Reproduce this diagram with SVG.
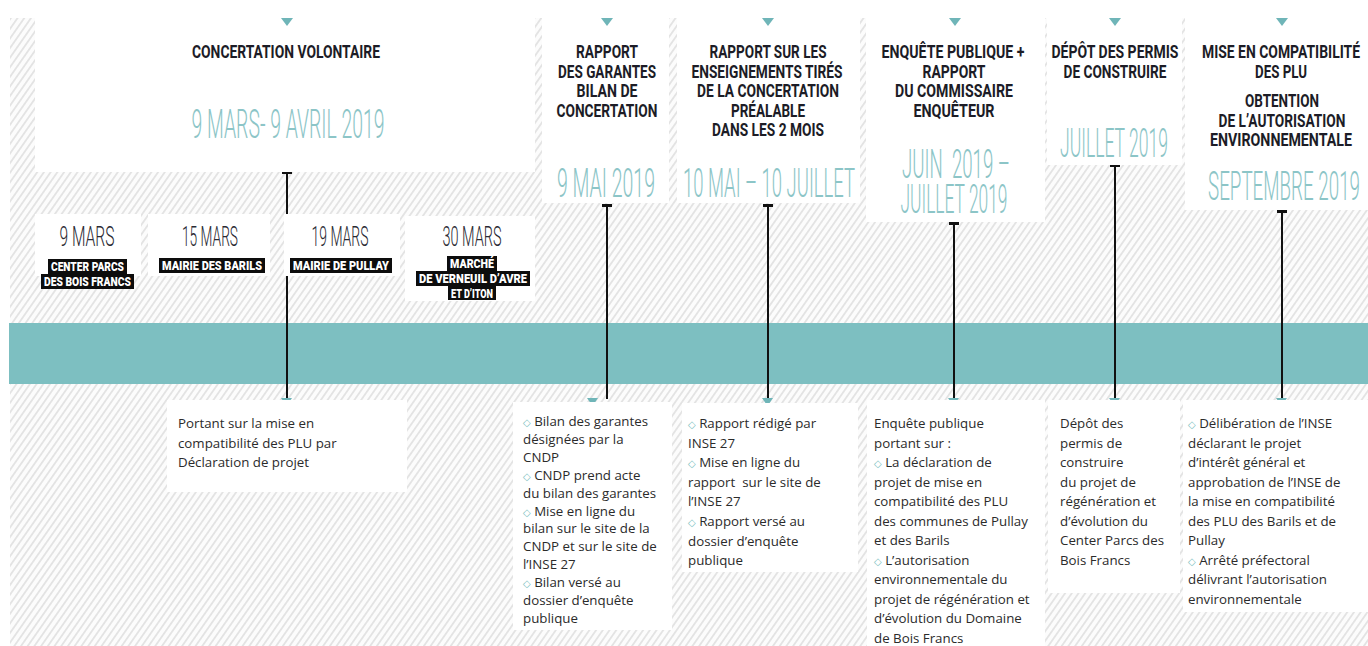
<svg xmlns="http://www.w3.org/2000/svg" width="1368" height="646" viewBox="0 0 1368 646">
  <defs>
    <pattern id="hatch" width="5.5" height="5.5" patternUnits="userSpaceOnUse" patternTransform="rotate(35)">
      <rect width="5.5" height="5.5" fill="#fcfcfc"/>
      <line x1="2.75" y1="0" x2="2.75" y2="5.5" stroke="#dadada" stroke-width="1.3"/>
    </pattern>
    <marker id="cap" viewBox="0 0 10 4" refX="5" refY="2" markerWidth="10" markerHeight="4" markerUnits="userSpaceOnUse" orient="0">
      <rect width="10" height="3" fill="#111"/>
    </marker>
  </defs>
  <style>
    .box { fill: #ffffff; }
    .tri { fill: #6fb5b8; }
    .head { font-family: Roboto, "Liberation Sans", sans-serif; font-weight: 700; font-size: 18px; fill: #1c1c26; text-anchor: middle; }
    .date { font-family: Roboto, "Liberation Sans", sans-serif; font-weight: 300; font-size: 41px; fill: #8cc5c7; text-anchor: middle; }
    .sdate { font-family: Roboto, "Liberation Sans", sans-serif; font-weight: 300; font-size: 28px; fill: #2a2a33; text-anchor: middle; }
    .tag { fill: #0d0d0d; }
    .tagt { font-family: Roboto, "Liberation Sans", sans-serif; font-weight: 900; font-size: 13px; fill: #ffffff; text-anchor: middle; }
    .body { font-family: "Open Sans", "Noto Sans", sans-serif; font-size: 13.3px; fill: #2b2b2b; }
    .bul { font-family: "DejaVu Sans", sans-serif; font-size: 10px; fill: #7dbfc1; }
    .link { stroke: #111; stroke-width: 2; fill: none; marker-start: url(#cap); }
  </style>

  <!-- hatched backdrop and timeline band -->
  <rect x="0" y="0" width="1368" height="646" fill="#ffffff"/>
  <rect x="10" y="18" width="1358" height="628" fill="url(#hatch)"/>
  <rect x="9" y="323" width="1359" height="61" fill="#7dbfc1"/>

  <!-- connectors: stems from each heading down to its detail card -->
  <g id="connectors">
    <line class="link" x1="287" y1="173" x2="287" y2="399"/>
    <line class="link" x1="607" y1="206" x2="607" y2="399"/>
    <line class="link" x1="768" y1="206" x2="768" y2="399"/>
    <line class="link" x1="954" y1="224" x2="954" y2="399"/>
    <line class="link" x1="1115" y1="166" x2="1115" y2="399"/>
    <line class="link" x1="1282" y1="212" x2="1282" y2="399"/>
    <polygon class="tri" points="281,398 292,398 286.5,406"/>
    <polygon class="tri" points="587,398 598,398 592.5,406"/>
    <polygon class="tri" points="762,398 773,398 767.5,406"/>
    <polygon class="tri" points="948,398 959,398 953.5,406"/>
    <polygon class="tri" points="1109,398 1120,398 1114.5,406"/>
    <polygon class="tri" points="1276,398 1287,398 1281.5,406"/>
  </g>

  <!-- phase 1: concertation -->
  <g id="concertation">
    <rect class="box" x="35" y="18" width="500" height="154"/>
    <polygon class="tri" points="281,18 293,18 287,26"/>
    <text class="head" x="286" y="58" textLength="188" lengthAdjust="spacingAndGlyphs">CONCERTATION VOLONTAIRE</text>
    <text class="date" x="288" y="138" font-size="42" textLength="193" lengthAdjust="spacingAndGlyphs">9 MARS- 9 AVRIL 2019</text>
  </g>

  <g id="m09">
    <rect class="box" x="35" y="214" width="106" height="62"/>
    <text class="sdate" x="87" y="246" textLength="55" lengthAdjust="spacingAndGlyphs">9 MARS</text>
    <rect class="tag" x="48" y="259" width="79" height="15"/>
    <rect class="tag" x="41" y="274" width="93" height="15"/>
    <text class="tagt" x="87.5" y="271" textLength="73" lengthAdjust="spacingAndGlyphs">CENTER PARCS</text>
    <text class="tagt" x="87.5" y="286" textLength="87" lengthAdjust="spacingAndGlyphs">DES BOIS FRANCS</text>
  </g>

  <g id="m15">
    <rect class="box" x="148" y="214" width="122" height="62"/>
    <text class="sdate" x="210" y="246" textLength="56" lengthAdjust="spacingAndGlyphs">15 MARS</text>
    <rect class="tag" x="159" y="258" width="106" height="15"/>
    <text class="tagt" x="212" y="270" textLength="100" lengthAdjust="spacingAndGlyphs">MAIRIE DES BARILS</text>
  </g>

  <g id="m19">
    <rect class="box" x="284" y="214" width="116" height="62"/>
    <text class="sdate" x="340" y="246" textLength="57" lengthAdjust="spacingAndGlyphs">19 MARS</text>
    <rect class="tag" x="290" y="258" width="102" height="15"/>
    <text class="tagt" x="341" y="270" textLength="96" lengthAdjust="spacingAndGlyphs">MAIRIE DE PULLAY</text>
  </g>

  <g id="m30">
    <rect class="box" x="405" y="216" width="130" height="85"/>
    <text class="sdate" x="472" y="246" textLength="59" lengthAdjust="spacingAndGlyphs">30 MARS</text>
    <rect class="tag" x="447" y="256" width="50" height="15"/>
    <rect class="tag" x="416" y="271" width="114" height="15"/>
    <rect class="tag" x="448" y="286" width="48" height="14"/>
    <text class="tagt" x="472" y="268" textLength="44" lengthAdjust="spacingAndGlyphs">MARCHÉ</text>
    <text class="tagt" x="473" y="283" textLength="108" lengthAdjust="spacingAndGlyphs">DE VERNEUIL D’AVRE</text>
    <text class="tagt" x="472" y="297.5" textLength="42" lengthAdjust="spacingAndGlyphs">ET D’ITON</text>
  </g>

  <g id="d1">
    <rect class="box" x="167" y="400" width="240" height="92"/>
    <text class="body" x="178" y="428">Portant sur la mise en</text>
    <text class="body" x="178" y="447.5">compatibilité des PLU par</text>
    <text class="body" x="178" y="467">Déclaration de projet</text>
  </g>

  <!-- phase 2: garantes report -->
  <g id="garantes">
    <rect class="box" x="542" y="18" width="127" height="185"/>
    <polygon class="tri" points="601,18 613,18 607,26"/>
    <text class="head" x="607" y="58" textLength="62" lengthAdjust="spacingAndGlyphs">RAPPORT</text>
    <text class="head" x="607" y="77.5" textLength="98" lengthAdjust="spacingAndGlyphs">DES GARANTES</text>
    <text class="head" x="607" y="97" textLength="61" lengthAdjust="spacingAndGlyphs">BILAN DE</text>
    <text class="head" x="607" y="116.5" textLength="101" lengthAdjust="spacingAndGlyphs">CONCERTATION</text>
    <text class="date" x="606" y="197" textLength="98" lengthAdjust="spacingAndGlyphs">9 MAI 2019</text>
  </g>

  <g id="d2">
    <rect class="box" x="513" y="402" width="159" height="228"/>
    <text class="body" x="523" y="426"><tspan class="bul">◇</tspan> Bilan des garantes</text>
    <text class="body" x="523" y="443.9">désignées par la</text>
    <text class="body" x="523" y="461.8">CNDP</text>
    <text class="body" x="523" y="479.7"><tspan class="bul">◇</tspan> CNDP prend acte</text>
    <text class="body" x="523" y="497.6">du bilan des garantes</text>
    <text class="body" x="523" y="515.5"><tspan class="bul">◇</tspan> Mise en ligne du</text>
    <text class="body" x="523" y="533.4">bilan sur le site de la</text>
    <text class="body" x="523" y="551.3">CNDP et sur le site de</text>
    <text class="body" x="523" y="569.2">l’INSE 27</text>
    <text class="body" x="523" y="587.1"><tspan class="bul">◇</tspan> Bilan versé au</text>
    <text class="body" x="523" y="605">dossier d’enquête</text>
    <text class="body" x="523" y="622.9">publique</text>
  </g>

  <!-- phase 3: lessons report -->
  <g id="enseignements">
    <rect class="box" x="677" y="18" width="183" height="185"/>
    <polygon class="tri" points="762,18 774,18 768,26"/>
    <text class="head" x="768" y="58" textLength="117" lengthAdjust="spacingAndGlyphs">RAPPORT SUR LES</text>
    <text class="head" x="767" y="77.5" textLength="151" lengthAdjust="spacingAndGlyphs">ENSEIGNEMENTS TIRÉS</text>
    <text class="head" x="768" y="97" textLength="142" lengthAdjust="spacingAndGlyphs">DE LA CONCERTATION</text>
    <text class="head" x="768" y="116.5" textLength="74" lengthAdjust="spacingAndGlyphs">PRÉALABLE</text>
    <text class="head" x="768" y="136" textLength="112" lengthAdjust="spacingAndGlyphs">DANS LES 2 MOIS</text>
    <text class="date" x="769" y="197" textLength="172" lengthAdjust="spacingAndGlyphs">10 MAI – 10 JUILLET</text>
  </g>

  <g id="d3">
    <rect class="box" x="682" y="403" width="176" height="169"/>
    <text class="body" x="688" y="428"><tspan class="bul">◇</tspan> Rapport rédigé par</text>
    <text class="body" x="688" y="447.6">INSE 27</text>
    <text class="body" x="688" y="467.2"><tspan class="bul">◇</tspan> Mise en ligne du</text>
    <text class="body" x="688" y="486.8" xml:space="preserve">rapport  sur le site de</text>
    <text class="body" x="688" y="506.4">l’INSE 27</text>
    <text class="body" x="688" y="526"><tspan class="bul">◇</tspan> Rapport versé au</text>
    <text class="body" x="688" y="545.6">dossier d’enquête</text>
    <text class="body" x="688" y="565.2">publique</text>
  </g>

  <!-- phase 4: public inquiry -->
  <g id="enquete">
    <rect class="box" x="866" y="18" width="179" height="204"/>
    <polygon class="tri" points="949,18 961,18 955,26"/>
    <text class="head" x="953" y="58" textLength="143" lengthAdjust="spacingAndGlyphs">ENQUÊTE PUBLIQUE +</text>
    <text class="head" x="954" y="77.5" textLength="63" lengthAdjust="spacingAndGlyphs">RAPPORT</text>
    <text class="head" x="954" y="97" textLength="118" lengthAdjust="spacingAndGlyphs">DU COMMISSAIRE</text>
    <text class="head" x="954" y="116.5" textLength="81" lengthAdjust="spacingAndGlyphs">ENQUÊTEUR</text>
    <text class="date" x="956" y="178" textLength="108" lengthAdjust="spacingAndGlyphs" xml:space="preserve">JUIN  2019 –</text>
    <text class="date" x="954" y="213" textLength="107" lengthAdjust="spacingAndGlyphs">JUILLET 2019</text>
  </g>

  <g id="d4">
    <rect class="box" x="867" y="400" width="178" height="246"/>
    <text class="body" x="874" y="428">Enquête publique</text>
    <text class="body" x="874" y="447.5">portant sur :</text>
    <text class="body" x="874" y="467"><tspan class="bul">◇</tspan> La déclaration de</text>
    <text class="body" x="874" y="486.5">projet de mise en</text>
    <text class="body" x="874" y="506">compatibilité des PLU</text>
    <text class="body" x="874" y="525.5">des communes de Pullay</text>
    <text class="body" x="874" y="545">et des Barils</text>
    <text class="body" x="874" y="564.5"><tspan class="bul">◇</tspan> L’autorisation</text>
    <text class="body" x="874" y="584">environnementale du</text>
    <text class="body" x="874" y="603.5">projet de régénération et</text>
    <text class="body" x="874" y="623">d’évolution du Domaine</text>
    <text class="body" x="874" y="642.5">de Bois Francs</text>
  </g>

  <!-- phase 5: building permits -->
  <g id="permis">
    <rect class="box" x="1047" y="18" width="135" height="147"/>
    <polygon class="tri" points="1109,18 1121,18 1115,26"/>
    <text class="head" x="1115" y="58" textLength="127" lengthAdjust="spacingAndGlyphs">DÉPÔT DES PERMIS</text>
    <text class="head" x="1115" y="77.5" textLength="103" lengthAdjust="spacingAndGlyphs">DE CONSTRUIRE</text>
    <text class="date" x="1114" y="157" textLength="108" lengthAdjust="spacingAndGlyphs">JUILLET 2019</text>
  </g>

  <g id="d5">
    <rect class="box" x="1048" y="400" width="132" height="193"/>
    <text class="body" x="1060" y="428">Dépôt des</text>
    <text class="body" x="1060" y="447.5">permis de</text>
    <text class="body" x="1060" y="467">construire</text>
    <text class="body" x="1060" y="486.5">du projet de</text>
    <text class="body" x="1060" y="506">régénération et</text>
    <text class="body" x="1060" y="525.5">d’évolution du</text>
    <text class="body" x="1060" y="545">Center Parcs des</text>
    <text class="body" x="1060" y="564.5">Bois Francs</text>
  </g>

  <!-- phase 6: PLU compatibility and environmental authorisation -->
  <g id="compatibilite">
    <rect class="box" x="1185" y="18" width="183" height="192"/>
    <polygon class="tri" points="1276,18 1288,18 1282,26"/>
    <text class="head" x="1281" y="58" textLength="158" lengthAdjust="spacingAndGlyphs">MISE EN COMPATIBILITÉ</text>
    <text class="head" x="1281" y="77.5" textLength="52" lengthAdjust="spacingAndGlyphs">DES PLU</text>
    <text class="head" x="1282" y="107" textLength="74" lengthAdjust="spacingAndGlyphs">OBTENTION</text>
    <text class="head" x="1282" y="126.5" textLength="127" lengthAdjust="spacingAndGlyphs">DE L’AUTORISATION</text>
    <text class="head" x="1281" y="146" textLength="142" lengthAdjust="spacingAndGlyphs">ENVIRONNEMENTALE</text>
    <text class="date" x="1284" y="200" textLength="152" lengthAdjust="spacingAndGlyphs">SEPTEMBRE 2019</text>
  </g>

  <g id="d6">
    <rect class="box" x="1183" y="400" width="185" height="212"/>
    <text class="body" x="1188" y="428"><tspan class="bul">◇</tspan> Délibération de l’INSE</text>
    <text class="body" x="1188" y="447.5">déclarant le projet</text>
    <text class="body" x="1188" y="467">d’intérêt général et</text>
    <text class="body" x="1188" y="486.5">approbation de l’INSE de</text>
    <text class="body" x="1188" y="506">la mise en compatibilité</text>
    <text class="body" x="1188" y="525.5">des PLU des Barils et de</text>
    <text class="body" x="1188" y="545">Pullay</text>
    <text class="body" x="1188" y="564.5"><tspan class="bul">◇</tspan> Arrêté préfectoral</text>
    <text class="body" x="1188" y="584">délivrant l’autorisation</text>
    <text class="body" x="1188" y="603.5">environnementale</text>
  </g>
</svg>
